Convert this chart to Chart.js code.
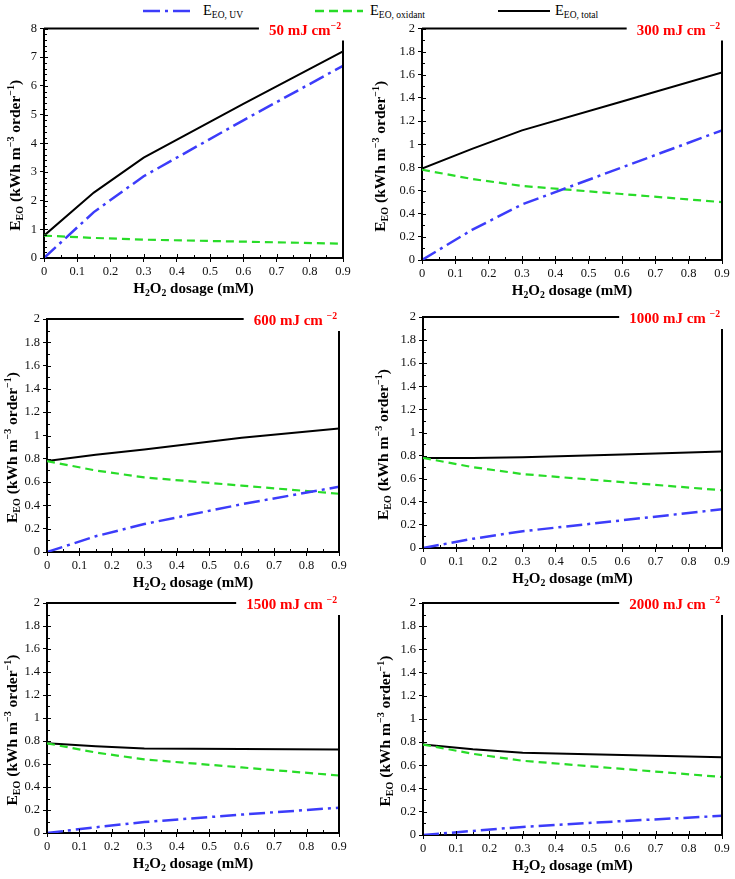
<!DOCTYPE html>
<html>
<head>
<meta charset="utf-8">
<script src="https://cdn.jsdelivr.net/npm/chart.js@4.4.1/dist/chart.umd.min.js"></script>
<style>
body { margin: 0; background: #fff; }
#page { position: relative; width: 735px; height: 879px; overflow: hidden; font-family: 'Liberation Serif', serif; }
canvas { position: absolute; }
.legline { position: absolute; top: 8px; }
.legtext { position: absolute; top: 2px; font-size: 14.5px; white-space: nowrap; color: #000; }
.legtext sub { font-size: 9.5px; vertical-align: -3px; }
</style>
</head>
<body>
<div id="page">
  <svg class="legline" style="left:143px" width="51" height="6"><line x1="0" y1="3" x2="51" y2="3" stroke="rgb(60,60,250)" stroke-width="2.5" stroke-dasharray="17 5 3 5"/></svg>
  <span class="legtext" style="left:203px">E<sub>EO, UV</sub></span>
  <svg class="legline" style="left:315px" width="48" height="6"><line x1="0" y1="3" x2="48" y2="3" stroke="rgb(40,220,40)" stroke-width="2.5" stroke-dasharray="9 5"/></svg>
  <span class="legtext" style="left:370px">E<sub>EO, oxidant</sub></span>
  <svg class="legline" style="left:498px" width="52" height="6"><line x1="0" y1="3" x2="52" y2="3" stroke="#000" stroke-width="2"/></svg>
  <span class="legtext" style="left:555px">E<sub>EO, total</sub></span>
</div>
<script>
// H2O2 dosage (mM) where the curves bend
var dosage = [0, 0.15, 0.3, 0.6, 0.9];

// oxidant part is the same in every panel
var oxidant = [0.78, 0.70, 0.64, 0.57, 0.50];

// UV fluence of each panel (mJ cm-2)
var fluence = ['50', '300', '600', '1000', '1500', '2000'];

var uv50 = [0, 1.6, 2.85, 4.8, 6.7];
var total50 = [0.78, 2.28, 3.5, 5.37, 7.2];
var uv300 = [0, 0.26, 0.48, 0.8, 1.12];
var total300 = [0.79, 0.96, 1.12, 1.37, 1.62];
var uv600 = [0, 0.135, 0.24, 0.41, 0.56];
var total600 = [0.78, 0.835, 0.88, 0.98, 1.06];
var uv1000 = [0, 0.08, 0.145, 0.24, 0.335];
var total1000 = [0.78, 0.78, 0.785, 0.81, 0.835];
var uv1500 = [0, 0.05, 0.095, 0.16, 0.22];
var total1500 = [0.78, 0.755, 0.735, 0.73, 0.725];
var uv2000 = [0, 0.035, 0.07, 0.12, 0.165];
var total2000 = [0.78, 0.74, 0.71, 0.69, 0.67];

var uvSeries = [uv50, uv300, uv600, uv1000, uv1500, uv2000];
var totalSeries = [total50, total300, total600, total1000, total1500, total2000];

// tick labels
var xLabels = ['0', '0.1', '0.2', '0.3', '0.4', '0.5', '0.6', '0.7', '0.8', '0.9'];
var yLabelsBig = ['0', '1', '2', '3', '4', '5', '6', '7', '8'];
var yLabelsSmall = ['0', '0.2', '0.4', '0.6', '0.8', '1', '1.2', '1.4', '1.6', '1.8', '2'];

var blue = 'rgb(60,60,250)';
var green = 'rgb(40,220,40)';
var serif = "'Liberation Serif', 'Times New Roman', serif";

// where things go on the page: canvas [left, top, w, h], plot area [left, top, right, bottom], y title x
var layout = [
  { canvas: [0, 18, 367, 282],   area: [44, 27, 343, 258],   titleX: 15 },
  { canvas: [367, 18, 368, 282], area: [422, 28, 722, 260],  titleX: 380 },
  { canvas: [0, 300, 367, 296],  area: [47, 319, 339, 552],  titleX: 12 },
  { canvas: [367, 300, 368, 296], area: [423, 317, 722, 548], titleX: 383 },
  { canvas: [0, 590, 367, 289],  area: [47, 603, 339, 833],  titleX: 12 },
  { canvas: [367, 590, 368, 289], area: [423, 603, 722, 835], titleX: 385 }
];

function fmt(v) {
  return String(Math.round(v * 1000) / 1000);
}

function points(ys) {
  return dosage.map(function(x, k) { return { x: x, y: ys[k] }; });
}

function fontStr(size, bold) {
  return (bold ? 'bold ' : '') + size + 'px ' + serif;
}

// parts: [text, 0 normal | 1 sub | 2 sup]
function richWidth(ctx, parts, size, bold) {
  var w = 0;
  parts.forEach(function(p) {
    ctx.font = fontStr(p[1] ? size * 0.65 : size, bold);
    w += ctx.measureText(p[0]).width;
  });
  return w;
}

function drawRich(ctx, parts, x, y, size, bold, align) {
  var w = richWidth(ctx, parts, size, bold);
  var cx = align == 'center' ? x - w / 2 : (align == 'right' ? x - w : x);
  ctx.textAlign = 'left';
  ctx.textBaseline = 'alphabetic';
  parts.forEach(function(p) {
    var s = p[1] ? size * 0.65 : size;
    var dy = p[1] == 1 ? size * 0.22 : (p[1] == 2 ? -size * 0.38 : 0);
    ctx.font = fontStr(s, bold);
    ctx.fillText(p[0], cx, y + dy);
    cx += ctx.measureText(p[0]).width;
  });
  return w;
}

var yTitle = [['E', 0], ['EO', 1], [' (kWh m', 0], ['\u22123', 2], [' order', 0], ['\u22121', 2], [')', 0]];
var xTitle = [['H', 0], ['2', 1], ['O', 0], ['2', 1], [' dosage (mM)', 0]];

function makeFrame(i) {
  var L = layout[i];
  return {
    id: 'frame' + i,
    afterDraw: function(chart) {
      var ctx = chart.ctx;
      var a = chart.chartArea;
      var xs = chart.scales.x, ys = chart.scales.y;
      ctx.save();
      ctx.strokeStyle = '#000';
      // inner tick marks
      ctx.lineWidth = 1;
      ys.ticks.forEach(function(t) {
        var py = Math.round(ys.getPixelForValue(t.value)) + 0.5;
        var len = t.label ? 4 : 3;
        ctx.beginPath(); ctx.moveTo(a.left, py); ctx.lineTo(a.left + len, py); ctx.stroke();
      });
      xs.ticks.forEach(function(t) {
        var px = Math.round(xs.getPixelForValue(t.value)) + 0.5;
        var len = t.label ? 4 : 3;
        ctx.beginPath(); ctx.moveTo(px, a.bottom); ctx.lineTo(px, a.bottom - len); ctx.stroke();
      });
      // dose label in the top right corner
      var lab = [[fluence[i] + (i == 0 ? ' mJ cm' : ' mJ cm '), 0], ['\u22122', 2]];
      ctx.fillStyle = 'rgb(255,0,0)';
      var lw = drawRich(ctx, lab, a.right - 2, a.top + 6, 15, true, 'right');
      // top and right frame pieces
      ctx.lineWidth = 2;
      ctx.beginPath();
      ctx.moveTo(a.left, a.top);
      ctx.lineTo(a.right - 2 - lw - 10, a.top);
      ctx.moveTo(a.right, a.top + 12);
      ctx.lineTo(a.right, a.bottom);
      ctx.stroke();
      // axis titles
      ctx.fillStyle = '#000';
      drawRich(ctx, xTitle, (a.left + a.right) / 2, a.bottom + 35, 15, true, 'center');
      ctx.translate(L.titleX - L.canvas[0], (a.top + a.bottom) / 2 + 12);
      ctx.rotate(-Math.PI / 2);
      drawRich(ctx, yTitle, 0, 5, 15.5, true, 'center');
      ctx.restore();
    }
  };
}

function makeChart(i) {
  var L = layout[i];
  var cv = document.createElement('canvas');
  cv.width = L.canvas[2];
  cv.height = L.canvas[3];
  cv.style.left = L.canvas[0] + 'px';
  cv.style.top = L.canvas[1] + 'px';
  cv.style.width = L.canvas[2] + 'px';
  cv.style.height = L.canvas[3] + 'px';
  document.getElementById('page').appendChild(cv);

  var big = i == 0;
  var yLabels = big ? yLabelsBig : yLabelsSmall;
  var tickFont = { family: serif, size: 12.5 };
  var tickColor = function(c) { return c.tick && c.tick.label ? '#000' : 'rgba(0,0,0,0)'; };

  new Chart(cv, {
    type: 'line',
    data: {
      datasets: [{
        label: 'E EO, UV',
        data: points(uvSeries[i]),
        borderColor: blue,
        borderWidth: 2.5,
        borderDash: [16, 5, 3, 5],
        pointRadius: 0,
        tension: 0
      }, {
        label: 'E EO, oxidant',
        data: points(oxidant),
        borderColor: green,
        borderWidth: 2.2,
        borderDash: [8, 5],
        pointRadius: 0,
        tension: 0
      }, {
        label: 'E EO, total',
        data: points(totalSeries[i]),
        borderColor: '#000',
        borderWidth: 2,
        pointRadius: 0,
        tension: 0
      }]
    },
    options: {
      responsive: false,
      animation: false,
      layout: {
        padding: {
          top: L.area[1] - L.canvas[1],
          right: L.canvas[0] + L.canvas[2] - L.area[2],
          left: 0,
          bottom: 0
        }
      },
      plugins: {
        legend: { display: false },
        tooltip: { enabled: false }
      },
      scales: {
        x: {
          type: 'linear',
          min: 0,
          max: 0.9,
          ticks: {
            stepSize: 0.05,
            autoSkip: false,
            maxRotation: 0,
            padding: 2,
            color: '#111',
            font: tickFont,
            callback: function(v) { var s = fmt(v); return xLabels.indexOf(s) >= 0 ? s : ''; }
          },
          grid: { drawOnChartArea: false, tickLength: 4, tickColor: tickColor, color: '#000' },
          border: { color: '#000', width: 2 },
          afterFit: function(s) { s.height = L.canvas[1] + L.canvas[3] - L.area[3]; }
        },
        y: {
          min: 0,
          max: big ? 8 : 2,
          ticks: {
            stepSize: big ? 0.2 : 0.1,
            autoSkip: false,
            padding: 3,
            color: '#111',
            font: tickFont,
            callback: function(v) { var s = fmt(v); return yLabels.indexOf(s) >= 0 ? s : ''; }
          },
          grid: { drawOnChartArea: false, tickLength: 4, tickColor: tickColor, color: '#000' },
          border: { color: '#000', width: 2 },
          afterFit: function(s) { s.width = L.area[0] - L.canvas[0]; }
        }
      }
    },
    plugins: [makeFrame(i)]
  });
}

for (var i = 0; i < layout.length; i++) {
  makeChart(i);
}
</script>
</body>
</html>
